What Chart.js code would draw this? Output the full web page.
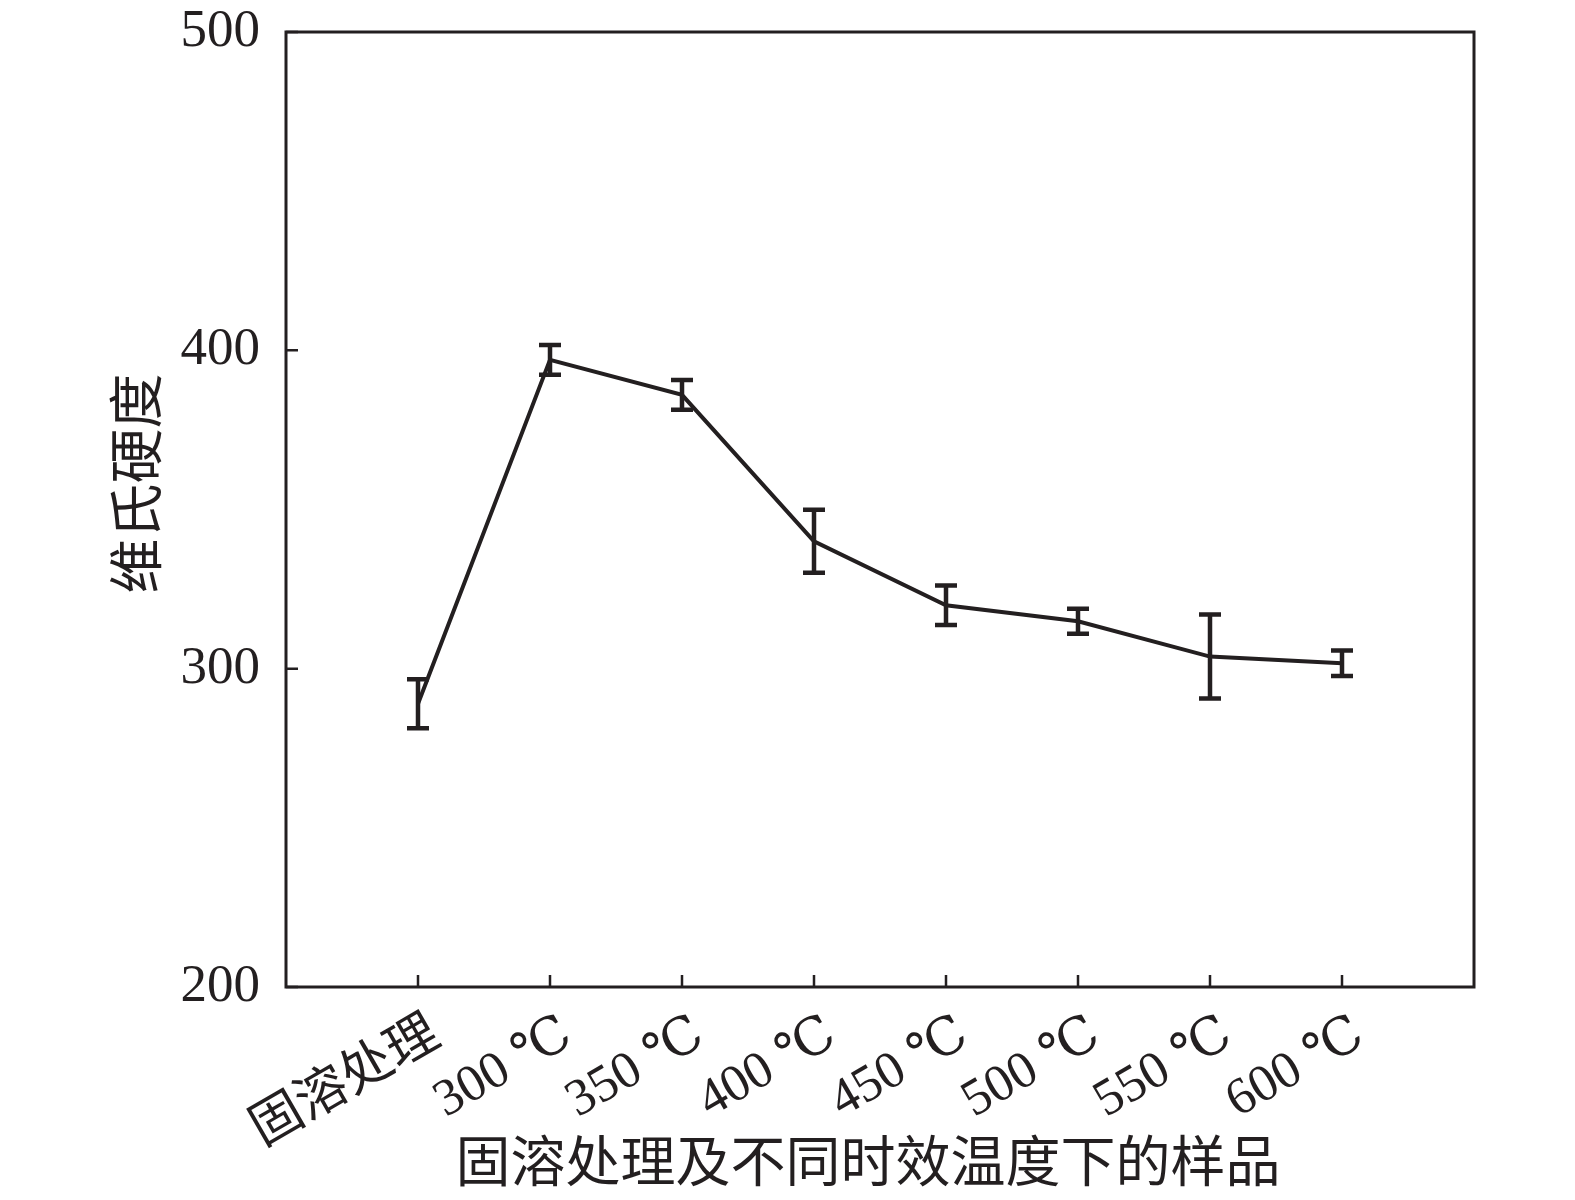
<!DOCTYPE html>
<html>
<head>
<meta charset="utf-8">
<script src="https://cdn.jsdelivr.net/npm/chart.js@4.4.1/dist/chart.umd.min.js"></script>
<style>
  html, body { margin: 0; padding: 0; background: #ffffff; }
  canvas { display: block; }
</style>
</head>
<body>
<canvas id="hardnessChart" width="1575" height="1200"></canvas>
<script>
// Données
const sampleLabels = ['固溶处理', '300 ℃', '350 ℃', '400 ℃', '450 ℃', '500 ℃', '550 ℃', '600 ℃'];
const samplePositions = [1, 2, 3, 4, 5, 6, 7, 8];
const hardnessValues = [289, 397, 386, 340, 319.9, 314.9, 303.8, 301.7];
const hardnessErrors = [7.7, 4.7, 4.7, 9.9, 6.2, 3.9, 13.2, 4.0];
const yTickValues = [200, 300, 400, 500];
const xAxisTitle = '固溶处理及不同时效温度下的样品';
const yAxisTitle = '维氏硬度';

const ink = '#231f20';
const serifFont = '"Liberation Serif", "DejaVu Serif", "Noto Sans CJK SC", serif';
const cjkFont = '"Noto Sans CJK SC", "Liberation Serif", sans-serif';

// Barres d'erreur, cadre, graduations intérieures, étiquettes inclinées et titres
const errorBarsPlugin = {
    id: 'errorBars',
    afterDatasetsDraw(chart) {
        const ctx = chart.ctx;
        const xs = chart.scales.x;
        const ys = chart.scales.y;
        ctx.save();
        ctx.strokeStyle = ink;
        ctx.lineWidth = 4.5;
        ctx.lineCap = 'butt';
        for (let i = 0; i < hardnessValues.length; i++) {
            const x = xs.getPixelForValue(samplePositions[i]);
            const yTop = ys.getPixelForValue(hardnessValues[i] + hardnessErrors[i]);
            const yBot = ys.getPixelForValue(hardnessValues[i] - hardnessErrors[i]);
            ctx.beginPath();
            ctx.moveTo(x, yTop);
            ctx.lineTo(x, yBot);
            ctx.moveTo(x - 11, yTop);
            ctx.lineTo(x + 11, yTop);
            ctx.moveTo(x - 11, yBot);
            ctx.lineTo(x + 11, yBot);
            ctx.stroke();
        }
        ctx.restore();
    },
    afterDraw(chart) {
        const ctx = chart.ctx;
        const area = chart.chartArea;
        const xs = chart.scales.x;
        const ys = chart.scales.y;
        ctx.save();
        ctx.strokeStyle = ink;
        ctx.lineWidth = 3;
        ctx.strokeRect(area.left, area.top, area.right - area.left, area.bottom - area.top);
        ctx.lineWidth = 2.5;
        ctx.beginPath();
        yTickValues.forEach(v => {
            const y = ys.getPixelForValue(v);
            ctx.moveTo(area.left, y);
            ctx.lineTo(area.left + 12, y);
        });
        samplePositions.forEach(p => {
            const x = xs.getPixelForValue(p);
            ctx.moveTo(x, area.bottom);
            ctx.lineTo(x, area.bottom - 12);
        });
        ctx.stroke();

        // Étiquettes de l'axe x, inclinées
        ctx.fillStyle = ink;
        ctx.font = '52px ' + serifFont;
        ctx.textAlign = 'right';
        ctx.textBaseline = 'middle';
        samplePositions.forEach((p, i) => {
            const x = xs.getPixelForValue(p);
            ctx.save();
            ctx.translate(x + 18, area.bottom + 44);
            ctx.rotate(-30 * Math.PI / 180);
            ctx.fillText(sampleLabels[i], 0, 0);
            ctx.restore();
        });

        // Titres des axes
        ctx.font = '55px ' + cjkFont;
        ctx.textAlign = 'center';
        ctx.fillText(xAxisTitle, (area.left + area.right) / 2 - 12, 1160);
        ctx.translate(135, (area.top + area.bottom) / 2 - 26);
        ctx.rotate(-Math.PI / 2);
        ctx.fillText(yAxisTitle, 0, 0);
        ctx.restore();
    }
};

const ctx = document.getElementById('hardnessChart').getContext('2d');

new Chart(ctx, {
    type: 'line',
    data: {
        datasets: [{
            label: yAxisTitle,
            data: samplePositions.map((p, i) => ({ x: p, y: hardnessValues[i] })),
            borderColor: ink,
            borderWidth: 4,
            pointRadius: 0,
            tension: 0,
            fill: false
        }]
    },
    options: {
        responsive: false,
        animation: false,
        devicePixelRatio: 1,
        layout: {
            padding: { left: 103, right: 101, top: 32, bottom: 4 }
        },
        plugins: {
            legend: { display: false },
            tooltip: { enabled: false }
        },
        scales: {
            x: {
                type: 'linear',
                min: 0,
                max: 9,
                afterFit(scale) {
                    scale.height = 209;
                    scale.paddingLeft = 0;
                    scale.paddingRight = 0;
                },
                grid: { display: false, drawTicks: false },
                border: { display: false },
                ticks: { display: false }
            },
            y: {
                min: 200,
                max: 500,
                afterFit(scale) {
                    scale.width = 183;
                    scale.paddingTop = 0;
                    scale.paddingBottom = 0;
                },
                afterBuildTicks(scale) {
                    scale.ticks = yTickValues.map(v => ({ value: v }));
                },
                grid: { display: false, drawTicks: false },
                border: { display: false },
                ticks: {
                    padding: 26,
                    color: ink,
                    font: { family: serifFont, size: 53 }
                }
            }
        }
    },
    plugins: [errorBarsPlugin]
});
</script>
</body>
</html>
